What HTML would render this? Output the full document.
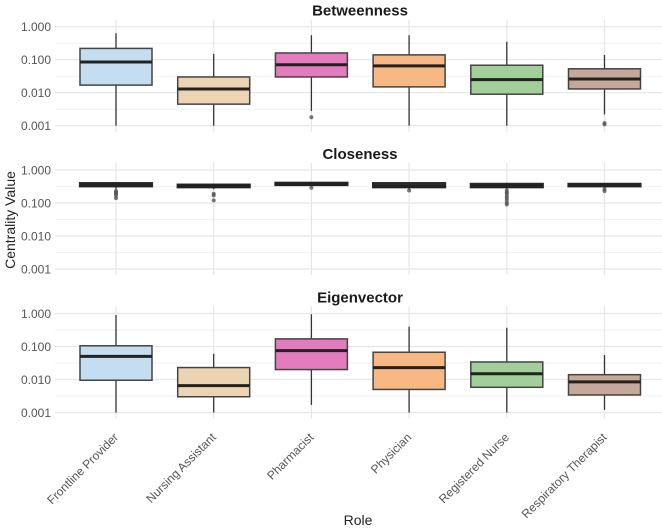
<!DOCTYPE html>
<html><head><meta charset="utf-8"><style>
body{margin:0;background:#fff;}
svg{display:block;font-family:"Liberation Sans",sans-serif;}
</style></head><body>
<svg id="chart" width="662" height="531" viewBox="0 0 662 531" xmlns="http://www.w3.org/2000/svg"></svg>
<script>
const categories=["Frontline Provider","Nursing Assistant","Pharmacist","Physician","Registered Nurse","Respiratory Therapist"];
const colors=["#c4ddf1","#ecd4b3","#e57bbf","#f8b883","#a2cf99","#c5a898"];
const panels=["Betweenness","Closeness","Eigenvector"];
const tickValues=[1,0.1,0.01,0.001];
const tickLabels=["1.000","0.100","0.010","0.001"];
// [whiskerLow,q1,median,q3,whiskerHigh]
const betweenness=[[0.001,0.017,0.085,0.22,0.63],[0.001,0.0045,0.013,0.03,0.15],[0.0028,0.03,0.07,0.16,0.55],[0.001,0.015,0.065,0.14,0.55],[0.001,0.009,0.025,0.068,0.35],[0.0022,0.013,0.026,0.053,0.14]];
const closeness=[[0.25,0.32,0.35,0.40,0.42],[0.26,0.30,0.33,0.36,0.38],[0.31,0.35,0.38,0.41,0.42],[0.25,0.30,0.33,0.40,0.42],[0.26,0.30,0.33,0.38,0.41],[0.28,0.32,0.35,0.38,0.40]];
const eigenvector=[[0.001,0.0095,0.05,0.105,0.9],[0.001,0.003,0.0065,0.023,0.06],[0.0017,0.02,0.075,0.17,0.95],[0.001,0.005,0.023,0.067,0.4],[0.001,0.0058,0.015,0.034,0.37],[0.0012,0.0034,0.0085,0.014,0.055]];
const betweennessOutliers=[[],[],[0.0018],[],[],[0.0012,0.0011]];
const closenessOutliers=[[0.23,0.21,0.19,0.17,0.14],[0.19,0.17,0.12],[0.29],[0.24],[0.24,0.21,0.19,0.16,0.14,0.12,0.1,0.09],[0.26,0.23]];
const eigenvectorOutliers=[[],[],[],[],[],[]];
const series=[betweenness,closeness,eigenvector];
const outliers=[betweennessOutliers,closenessOutliers,eigenvectorOutliers];

const svg=document.getElementById('chart');
const NS="http://www.w3.org/2000/svg";
function mk(tag,attrs,parent){const e=document.createElementNS(NS,tag);for(const k in attrs)e.setAttribute(k,attrs[k]);(parent||svg).appendChild(e);return e;}
const plotL=55,plotR=662;
const panelTop=[26.7,170,313.5];
const decade=33;
const xScale=i=>116+i*97.7;
const boxHalf=36;
function yScale(p,v){return panelTop[p]+(-Math.log10(v))*decade;}

panels.forEach((name,p)=>{
  const g=mk('g',{});
  
  
  const t=mk('text',{x:360,y:panelTop[p]-11,'text-anchor':'middle','font-size':15,'font-weight':'bold',fill:'#1a1a1a'},g);
  t.textContent=name;
  
  
  for(let k=0;k<3;k++){const y=yScale(p,Math.pow(10,-k-0.5));
    const l=mk('line',{x1:plotL,x2:plotR,y1:y,y2:y,stroke:'#f2f2f2','stroke-width':1},g);
    }
  tickValues.forEach((v,k)=>{const y=yScale(p,v);
    const l=mk('line',{x1:plotL,x2:plotR,y1:y,y2:y,stroke:'#e6e6e6','stroke-width':1.2},g);
    
    const tx=mk('text',{x:51,y:y+4.5,'text-anchor':'end','font-size':12,fill:'#555'},g);
    tx.textContent=tickLabels[k];
    });
  categories.forEach((c,i)=>{const x=xScale(i);
    const l=mk('line',{x1:x,x2:x,y1:panelTop[p]-7,y2:yScale(p,0.001)+6,stroke:'#e6e6e6','stroke-width':1.2},g);
    });
  categories.forEach((c,i)=>{
    const d=series[p][i];const x=xScale(i);
    const w=mk('line',{x1:x,x2:x,y1:yScale(p,d[0]),y2:yScale(p,d[4]),stroke:'#333','stroke-width':1.3},g);
    
    const thin=(p===1);
    const r=mk('rect',{x:x-boxHalf,y:yScale(p,d[3]),width:boxHalf*2,height:yScale(p,d[1])-yScale(p,d[3]),fill:colors[i],stroke:thin?'#2a2a2a':'#444','stroke-width':thin?2.2:1.5},g);
    
    const m=mk('line',{x1:x-boxHalf,x2:x+boxHalf,y1:yScale(p,d[2]),y2:yScale(p,d[2]),stroke:'#222','stroke-width':thin?3.5:3},g);
    
    outliers[p][i].forEach(v=>{const o=mk('circle',{cx:x,cy:yScale(p,v),r:2,fill:'#555','fill-opacity':0.8},g);
      });
  });
});
categories.forEach((c,i)=>{const x=xScale(i)+3;const y=438;
  const t=mk('text',{x:x,y:y,'text-anchor':'end','font-size':12,fill:'#555',transform:`rotate(-45 ${x} ${y})`});
  t.textContent=c;});
const xt=mk('text',{x:358,y:525,'text-anchor':'middle','font-size':14,fill:'#222'});
xt.textContent='Role';
const yt=mk('text',{x:15,y:220,'text-anchor':'middle','font-size':14,fill:'#222',transform:'rotate(-90 15 220)'});
yt.textContent='Centrality Value';
</script>
</body></html>
